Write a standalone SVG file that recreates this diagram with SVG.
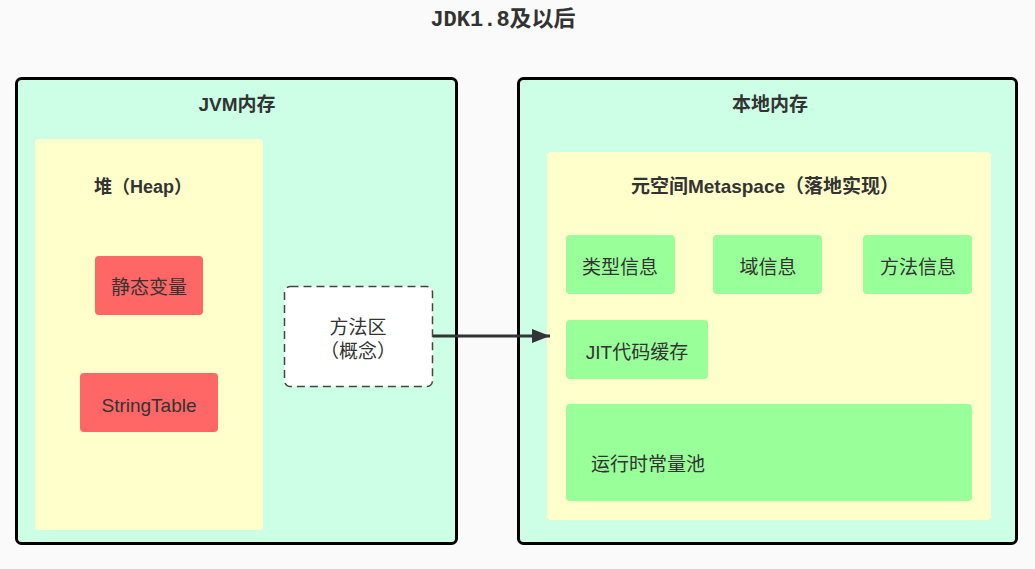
<svg xmlns="http://www.w3.org/2000/svg" width="1035" height="569" viewBox="0 0 1035 569">
<style>
.t{font-family:"Liberation Sans","Noto Sans CJK SC",sans-serif;fill:#333;text-anchor:middle;dominant-baseline:central}
.b{font-weight:bold}
.mono{font-family:"Liberation Mono","Noto Sans CJK SC",monospace}
.big{fill:#ccffe6;stroke:#000;stroke-width:3}
.yel{fill:#ffffcc}
.red{fill:#ff6666}
.grn{fill:#99ff99}
</style>
<defs>
<marker id="ah" markerWidth="20" markerHeight="16" refX="18" refY="7" orient="auto" markerUnits="userSpaceOnUse">
<path d="M0,0 L18,7 L0,14 z" fill="#333"/>
</marker>
</defs>
<rect width="1035" height="569" fill="#fafafa"/>
<text class="t b mono" x="503" y="20" font-size="22">JDK1.8及以后</text>
<g id="jvm">
<rect class="big" x="16.5" y="78.5" width="440" height="465" rx="5"/>
<text class="t b" x="237" y="104" font-size="19">JVM内存</text>
</g>
<g id="heap">
<rect class="yel" x="35" y="139" width="228" height="391" rx="4"/>
<text class="t b" x="143" y="187" font-size="18">堆（Heap）</text>
</g>
<g id="static">
<rect class="red" x="95" y="256" width="108" height="59" rx="4"/>
<text class="t" x="149" y="287" font-size="19">静态变量</text>
</g>
<g id="stringtable">
<rect class="red" x="80" y="373" width="138" height="59" rx="4"/>
<text class="t" x="149" y="405" font-size="19">StringTable</text>
</g>
<g id="methodarea">
<rect x="284.5" y="286.5" width="148" height="100" rx="6" fill="#fff" stroke="#444" stroke-width="1.5" stroke-dasharray="8,5"/>
<text class="t" x="358" y="327" font-size="19">方法区</text>
<text class="t" x="358" y="351" font-size="19">（概念）</text>
</g>
<g id="native">
<rect class="big" x="518.5" y="78.5" width="498" height="465" rx="5"/>
<text class="t b" x="770" y="104" font-size="19">本地内存</text>
</g>
<g id="metaspace">
<rect class="yel" x="547" y="152" width="444" height="368" rx="4"/>
<text class="t b" x="765" y="186" font-size="19">元空间Metaspace（落地实现）</text>
</g>
<g id="typeinfo">
<rect class="grn" x="566" y="235" width="109" height="59" rx="4"/>
<text class="t" x="620" y="267" font-size="19">类型信息</text>
</g>
<g id="fieldinfo">
<rect class="grn" x="713" y="235" width="109" height="59" rx="4"/>
<text class="t" x="768" y="267" font-size="19">域信息</text>
</g>
<g id="methodinfo">
<rect class="grn" x="863" y="235" width="109" height="59" rx="4"/>
<text class="t" x="918" y="267" font-size="19">方法信息</text>
</g>
<g id="jit">
<rect class="grn" x="566" y="320" width="142" height="59" rx="4"/>
<text class="t" x="637" y="352" font-size="19">JIT代码缓存</text>
</g>
<g id="constpool">
<rect class="grn" x="566" y="404" width="406" height="97" rx="4"/>
<text class="t" x="648" y="464" font-size="19">运行时常量池</text>
</g>
<g id="connectors">
<line x1="433" y1="336" x2="550" y2="336" stroke="#333" stroke-width="3" marker-end="url(#ah)"/>
</g>
</svg>
